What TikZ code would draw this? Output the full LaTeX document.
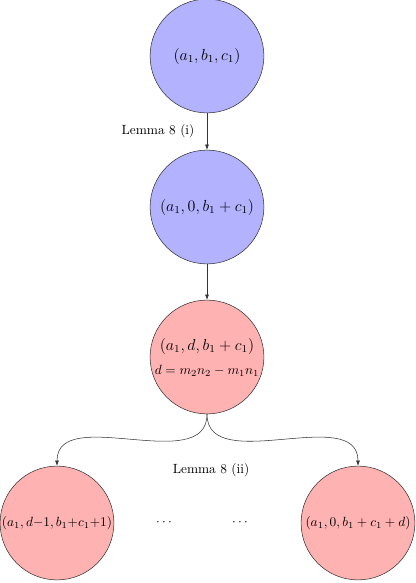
\documentclass[tikz,border=0pt]{standalone}
\usetikzlibrary{arrows.meta}
\begin{document}
\begin{tikzpicture}[x=0.75pt,y=-0.75pt,
  state/.style={circle,draw=black!80,minimum size=3cm,inner sep=0pt,align=center},
  bluest/.style={state,fill=blue!30},
  redst/.style={state,fill=red!30},
  conn/.style={draw=black!80,-{Latex[length=4pt,width=3pt]}}]
\useasboundingbox (0,0) rectangle (416,583);
\node[bluest] (n1) at (207,56) {\large $(a_1,b_1,c_1)$};
\node[bluest] (n2) at (207,207) {\large $(a_1,0,b_1+c_1)$};
\node[redst] (n3) at (207,357) {\large $(a_1,d,b_1+c_1)$\\[6pt] $d=m_2n_2-m_1n_1$};
\node[redst] (n4) at (57,523) {$(a_1,d{-}1,b_1{+}c_1{+}1)$};
\node[redst] (n5) at (358,523) {$(a_1,0,b_1+c_1+d)$};
\node (l1) at (158,131) {Lemma 8 (i)};
\node (l2) at (211,470) {Lemma 8 (ii)};
\node (d1) at (164,523) {$\cdots$};
\node (d2) at (240,523) {$\cdots$};
\draw[conn] (n1) -- (n2);
\draw[conn] (n2) -- (n3);
\draw[conn] (n3.south) to[out=-90,in=90] (n4.north);
\draw[conn] (n3.south) to[out=-90,in=90] (n5.north);
\end{tikzpicture}
\end{document}
